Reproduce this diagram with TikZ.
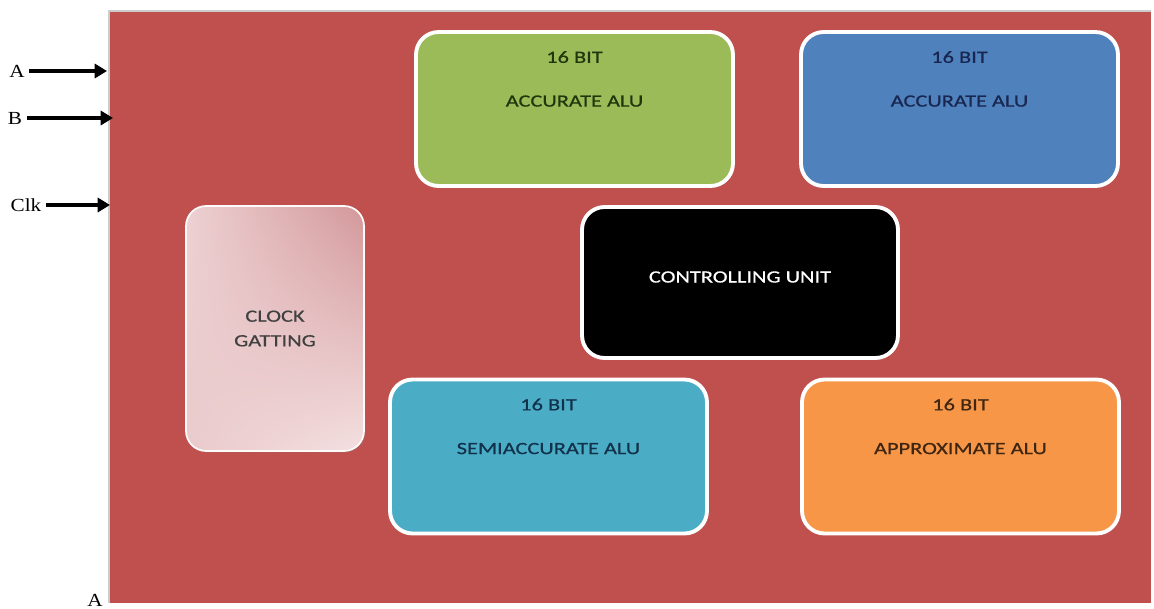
\documentclass[tikz,border=0pt]{standalone}
\usepackage{fontspec}
\setmainfont{Carlito}[FakeStretch=1.3, FakeBold=0.6]
\newfontfamily\pinfont{Liberation Serif}[FakeStretch=1.15]
\usetikzlibrary{arrows.meta,shadows,shadings}
\definecolor{boardred}{HTML}{C0504D}
\definecolor{alugreen}{HTML}{9BBB59}
\definecolor{alublue}{HTML}{4F81BD}
\definecolor{alucyan}{HTML}{4BACC6}
\definecolor{aluorange}{HTML}{F79646}
\definecolor{gatelight}{HTML}{F4E0E1}
\definecolor{gatedark}{HTML}{D3979A}
\begin{document}
\begin{tikzpicture}[x=0.02cm, y=-0.02cm,
  blocknode/.style={rectangle, rounded corners=0.45cm, draw=white, line width=2.2pt, minimum width=6.34cm, minimum height=3.08cm, drop shadow={opacity=0.3, shadow xshift=0.8pt, shadow yshift=-0.8pt}},
  alutext/.style={font=\fontsize{9.8}{12}\selectfont, inner sep=0},
  pinnode/.style={font=\pinfont\fontsize{10.5}{12}\selectfont, inner sep=2.5pt},
  pinarrow/.style={-{Triangle[length=7pt,width=8pt]}, line width=2.2pt},]
\useasboundingbox (0,0) rectangle (1154,609);
% board
\fill[black!40, opacity=0.5] (108,10) rectangle (1151,603);
\fill[boardred] (110,12) rectangle (1151,603);
% nodes
\node[blocknode, fill=alugreen] (accurate_left) at (574.5,109) {};
\node[blocknode, fill=alublue] (accurate_right) at (959.5,109) {};
\node[blocknode, fill=black, minimum width=6.32cm, minimum height=3.02cm] (control_unit) at (740,282.5) {};
\node[blocknode, fill=alucyan] (semi_alu) at (548.5,456.5) {};
\node[blocknode, fill=aluorange] (approx_alu) at (960.5,456.5) {};
\node[blocknode, draw=white!85!gatelight, line width=1pt, minimum width=3.56cm, minimum height=4.9cm, rounded corners=0.4cm,
  upper left=gatelight!80!gatedark, upper right=gatedark, lower left=gatelight!70!gatedark, lower right=gatelight] (clock_gating) at (275,328.5) {};
% texts
\node[alutext, text={rgb,255:red,30;green,55;blue,12}] (bits_left) at ([yshift=-0.54cm]accurate_left.north) {16 BIT};
\node[alutext, text={rgb,255:red,30;green,55;blue,12}] (name_left) at ([yshift=-1.42cm]accurate_left.north) {ACCURATE ALU};
\node[alutext, text={rgb,255:red,25;green,38;blue,80}] (bits_right) at ([yshift=-0.54cm]accurate_right.north) {16 BIT};
\node[alutext, text={rgb,255:red,25;green,38;blue,80}] (name_right) at ([yshift=-1.42cm]accurate_right.north) {ACCURATE ALU};
\node[alutext, text={rgb,255:red,18;green,50;blue,75}] (bits_semi) at ([yshift=-0.54cm]semi_alu.north) {16 BIT};
\node[alutext, text={rgb,255:red,18;green,50;blue,75}] (name_semi) at ([yshift=-1.42cm]semi_alu.north) {SEMIACCURATE ALU};
\node[alutext, text={rgb,255:red,62;green,38;blue,18}] (bits_approx) at ([yshift=-0.54cm]approx_alu.north) {16 BIT};
\node[alutext, text={rgb,255:red,62;green,38;blue,18}] (name_approx) at ([yshift=-1.42cm]approx_alu.north) {APPROXIMATE ALU};
\node[alutext, text=white] (control_text) at ([yshift=0.11cm]control_unit.center) {CONTROLLING UNIT};
\node[alutext, text=black!75, align=center, font=\fontsize{9.8}{14}\selectfont] (gating_text) at (clock_gating.center) {CLOCK\\GATTING};
% pins
\node[pinnode] (pin_a) at (17,71) {A};
\node[pinnode] (pin_b) at (15,118) {B};
\node[pinnode] (pin_clk) at (26,205) {Clk};
\node[pinnode] (pin_a_low) at (95,600) {A};
\coordinate (in_a) at (107,71);
\coordinate (in_b) at (113,118);
\coordinate (in_clk) at (110,205);
% edges
\draw[pinarrow] (pin_a) -- (in_a);
\draw[pinarrow] (pin_b) -- (in_b);
\draw[pinarrow] (pin_clk) -- (in_clk);
\end{tikzpicture}
\end{document}
